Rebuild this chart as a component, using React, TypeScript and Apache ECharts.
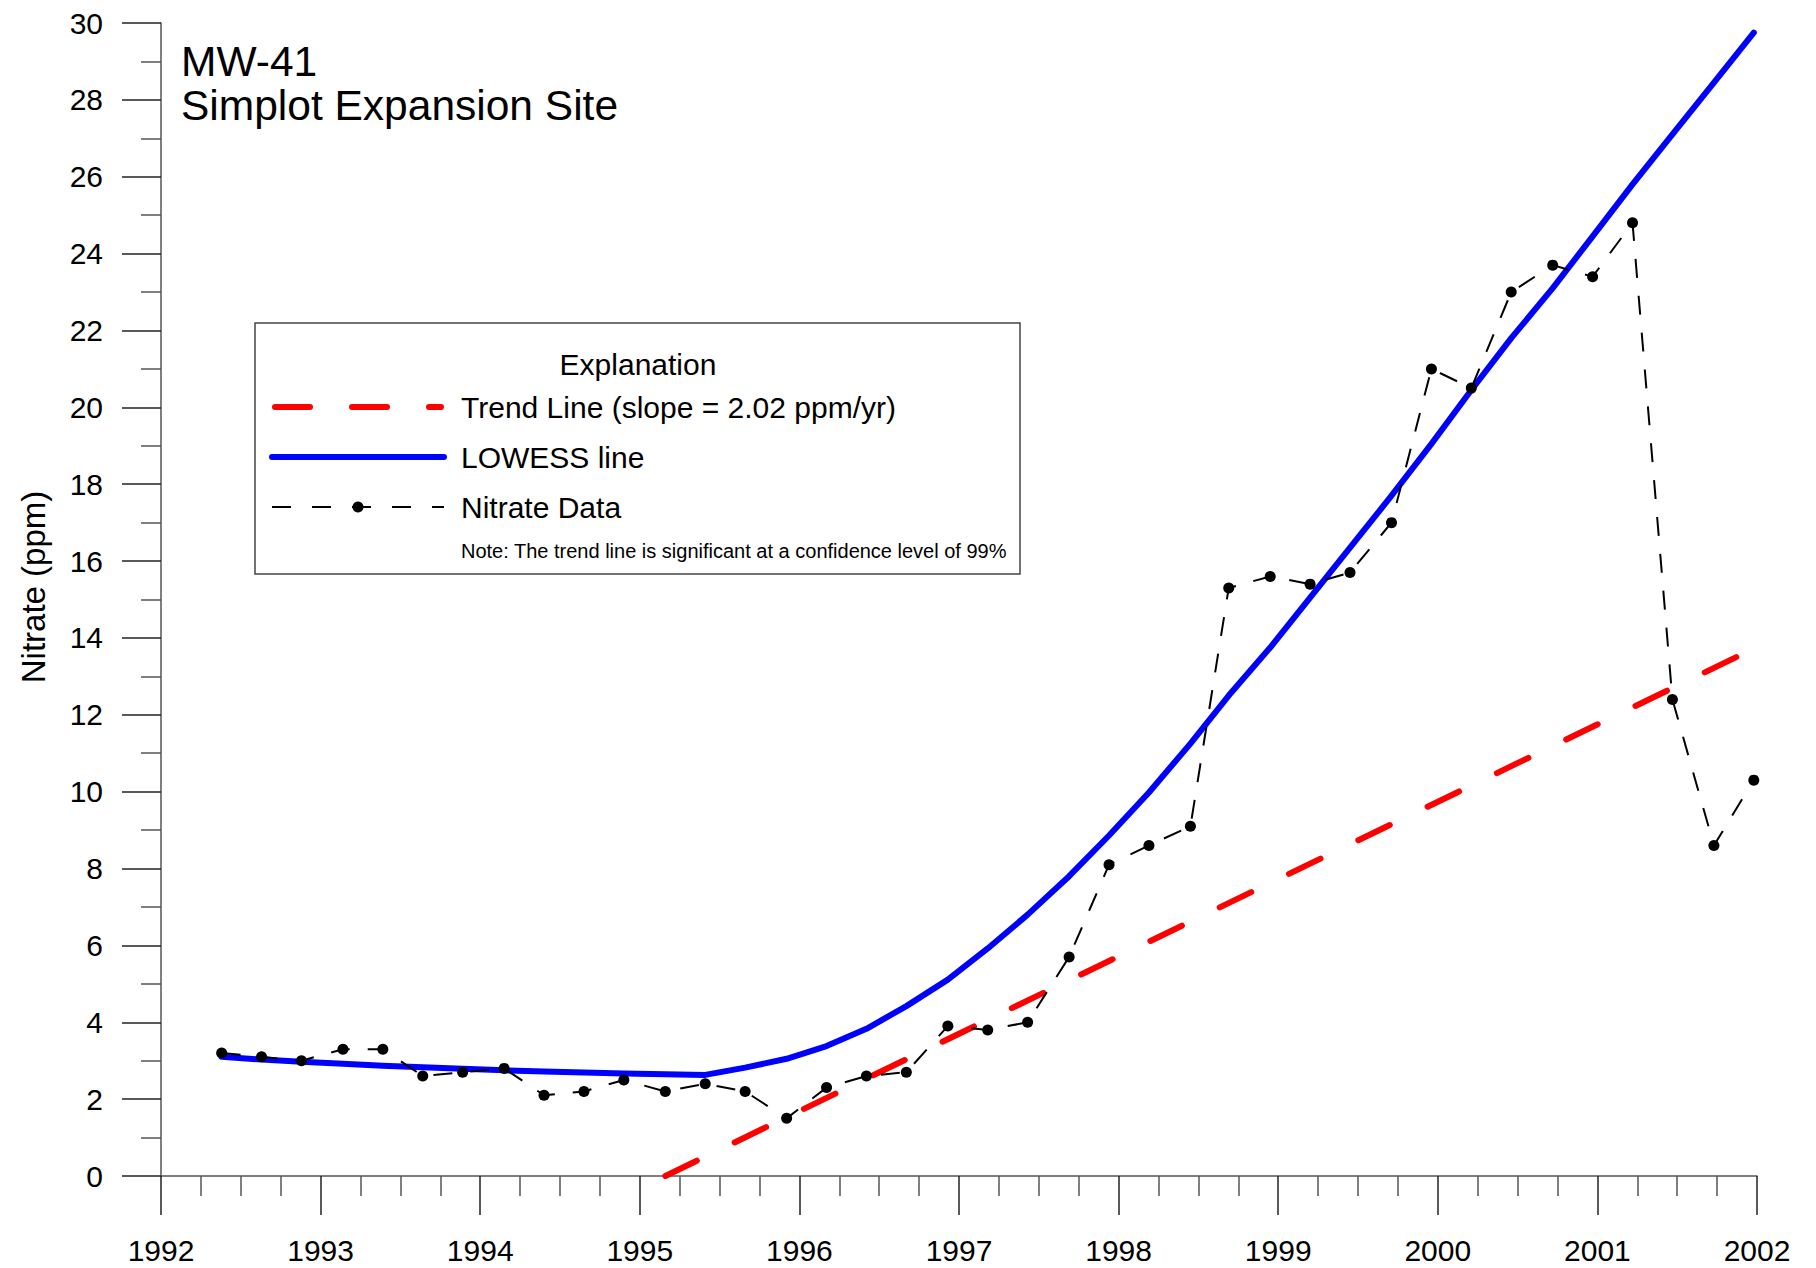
import React, { useEffect, useRef } from "react";
import * as echarts from "echarts";

const FONT = "'Liberation Sans', Arial, Helvetica, sans-serif";

const xTickYears = [1992, 2002];
const yRange = [0, 30];

const nitrateYears = [
  1992.38, 1992.63, 1992.88, 1993.14, 1993.39, 1993.64, 1993.89, 1994.15, 1994.4, 1994.65,
  1994.9, 1995.16, 1995.41, 1995.66, 1995.92, 1996.17, 1996.42, 1996.67, 1996.93, 1997.18,
  1997.43, 1997.69, 1997.94, 1998.19, 1998.45, 1998.69, 1998.95, 1999.2, 1999.45, 1999.71,
  1999.96, 2000.21, 2000.46, 2000.72, 2000.97, 2001.22, 2001.47, 2001.73, 2001.98,
];
const nitrateValues = [
  3.2, 3.1, 3.0, 3.3, 3.3, 2.6, 2.7, 2.8, 2.1, 2.2,
  2.5, 2.2, 2.4, 2.2, 1.5, 2.3, 2.6, 2.7, 3.9, 3.8,
  4.0, 5.7, 8.1, 8.6, 9.1, 15.3, 15.6, 15.4, 15.7, 17.0,
  21.0, 20.5, 23.0, 23.7, 23.4, 24.8, 12.4, 8.6, 10.3,
];
const lowessValues = [
  3.1, 3.03, 2.97, 2.92, 2.87, 2.83, 2.79, 2.75, 2.72, 2.69,
  2.67, 2.65, 2.63, 2.82, 3.05, 3.38, 3.83, 4.42, 5.11, 5.92,
  6.8, 7.8, 8.86, 9.98, 11.25, 12.5, 13.75, 15.05, 16.35, 17.7,
  19.05, 20.45, 21.8, 23.1, 24.45, 25.8, 27.1, 28.45, 29.75,
];
const trendYears = [1995.16, 2001.87];
const trendValues = [0, 13.5];

const titleLines = ["MW-41", "Simplot Expansion Site"];
const legendTitle = "Explanation";
const legendLabels = ["Trend Line (slope = 2.02 ppm/yr)", "LOWESS line", "Nitrate Data"];
const legendNote = "Note: The trend line is significant at a confidence level of 99%";
const yAxisName = "Nitrate (ppm)";

export default function App() {
  const ref = useRef<HTMLDivElement>(null);

  useEffect(() => {
    if (!ref.current) return;
    const chart = echarts.init(ref.current, null, { renderer: "svg" });

    const nitrate = nitrateYears.map((x, i) => [x, nitrateValues[i]]);
    const lowess = nitrateYears.map((x, i) => [x, lowessValues[i]]);
    const trend = trendYears.map((x, i) => [x, trendValues[i]]);

    const lx1 = 272;
    const lx2 = 444;
    const tx = 461;
    const rowY = [407, 457, 507];

    chart.setOption({
      animation: false,
      backgroundColor: "#ffffff",
      textStyle: { fontFamily: FONT },
      grid: { left: 161, right: 59, top: 23, bottom: 92, containLabel: false },
      xAxis: {
        type: "value",
        min: xTickYears[0],
        max: xTickYears[1],
        interval: 1,
        axisLine: { show: true, lineStyle: { color: "#555", width: 1.5 } },
        axisTick: { show: true, length: 39, lineStyle: { color: "#222", width: 1.5 } },
        minorTick: { show: true, splitNumber: 4, length: 20, lineStyle: { color: "#555", width: 1.5 } },
        splitLine: { show: false },
        axisLabel: {
          show: true,
          margin: 59,
          fontSize: 30,
          color: "#000",
          fontFamily: FONT,
          showMinLabel: true,
          showMaxLabel: true,
          formatter: (v: number) => String(Math.round(v)),
        },
      },
      yAxis: {
        type: "value",
        min: yRange[0],
        max: yRange[1],
        interval: 2,
        axisLine: { show: true, lineStyle: { color: "#555", width: 1.5 } },
        axisTick: { show: true, length: 39, lineStyle: { color: "#222", width: 1.5 } },
        minorTick: { show: true, splitNumber: 2, length: 20, lineStyle: { color: "#555", width: 1.5 } },
        splitLine: { show: false },
        axisLabel: {
          show: true,
          margin: 58,
          fontSize: 30,
          color: "#000",
          fontFamily: FONT,
          showMinLabel: true,
          showMaxLabel: true,
        },
      },
      series: [
        {
          name: legendLabels[0],
          type: "line",
          data: trend,
          symbol: "none",
          lineStyle: { color: "#ff0000", width: 6, type: [35, 42], cap: "round" },
          z: 2,
        },
        {
          name: legendLabels[1],
          type: "line",
          data: lowess,
          symbol: "none",
          lineStyle: { color: "#0000ff", width: 6, cap: "round", join: "round" },
          z: 3,
        },
        {
          name: legendLabels[2],
          type: "line",
          data: nitrate,
          symbol: "circle",
          symbolSize: 11,
          itemStyle: { color: "#000" },
          lineStyle: { color: "#000", width: 2, type: [19, 18] },
          z: 4,
        },
      ],
      graphic: [
        {
          type: "text",
          x: 181,
          y: 61,
          style: { text: titleLines[0], font: `42.5px ${FONT}`, fill: "#000", textAlign: "left", textVerticalAlign: "middle" },
        },
        {
          type: "text",
          x: 181,
          y: 105,
          style: { text: titleLines[1], font: `42.5px ${FONT}`, fill: "#000", textAlign: "left", textVerticalAlign: "middle" },
        },
        {
          type: "text",
          x: 33,
          y: 587,
          rotation: Math.PI / 2,
          style: { text: yAxisName, font: `33px ${FONT}`, fill: "#000", textAlign: "center", textVerticalAlign: "middle" },
        },
        {
          type: "rect",
          shape: { x: 255, y: 323, width: 765, height: 251 },
          style: { fill: "#fff", stroke: "#444", lineWidth: 1.5 },
          z: 10,
        },
        {
          type: "text",
          x: 638,
          y: 364,
          z: 11,
          style: { text: legendTitle, font: `30px ${FONT}`, fill: "#000", textAlign: "center", textVerticalAlign: "middle" },
        },
        {
          type: "line",
          z: 11,
          shape: { x1: lx1 + 3, y1: rowY[0], x2: lx2 - 3, y2: rowY[0] },
          style: { stroke: "#ff0000", lineWidth: 6, lineDash: [35, 42], lineCap: "round" },
        },
        {
          type: "line",
          z: 11,
          shape: { x1: lx1, y1: rowY[1], x2: lx2, y2: rowY[1] },
          style: { stroke: "#0000ff", lineWidth: 6, lineCap: "round" },
        },
        {
          type: "line",
          z: 11,
          shape: { x1: lx1, y1: rowY[2], x2: lx2, y2: rowY[2] },
          style: { stroke: "#000", lineWidth: 2, lineDash: [19, 21] },
        },
        {
          type: "circle",
          z: 12,
          shape: { cx: 358, cy: rowY[2], r: 5.5 },
          style: { fill: "#000" },
        },
        {
          type: "text",
          x: tx,
          y: rowY[0],
          z: 11,
          style: { text: legendLabels[0], font: `30px ${FONT}`, fill: "#000", textAlign: "left", textVerticalAlign: "middle" },
        },
        {
          type: "text",
          x: tx,
          y: rowY[1],
          z: 11,
          style: { text: legendLabels[1], font: `30px ${FONT}`, fill: "#000", textAlign: "left", textVerticalAlign: "middle" },
        },
        {
          type: "text",
          x: tx,
          y: rowY[2],
          z: 11,
          style: { text: legendLabels[2], font: `30px ${FONT}`, fill: "#000", textAlign: "left", textVerticalAlign: "middle" },
        },
        {
          type: "text",
          x: tx,
          y: 551,
          z: 11,
          style: { text: legendNote, font: `20px ${FONT}`, fill: "#000", textAlign: "left", textVerticalAlign: "middle" },
        },
      ],
    });

    return () => {
      chart.dispose();
    };
  }, []);

  return (
    <div
      ref={ref}
      style={{ position: "absolute", left: 0, top: 0, width: 1816, height: 1268, background: "#fff" }}
    />
  );
}
